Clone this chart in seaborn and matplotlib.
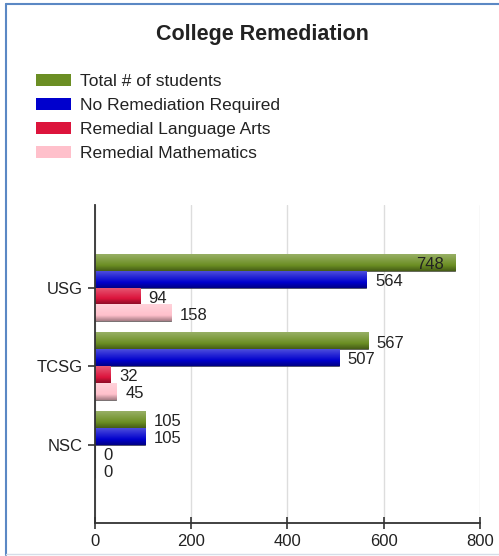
import matplotlib
matplotlib.use("Agg")
import matplotlib.pyplot as plt
import seaborn as sns
import pandas as pd
import numpy as np
from matplotlib.lines import Line2D
from matplotlib.patches import Patch
from matplotlib.colors import to_rgb, LinearSegmentedColormap

categories = ["USG", "TCSG", "NSC"]
series = ["Total # of students", "No Remediation Required",
          "Remedial Language Arts", "Remedial Mathematics"]
total_students = [748, 567, 105]
no_remediation = [564, 507, 105]
remedial_language = [94, 32, 0]
remedial_math = [158, 45, 0]
colors = ["#6B8E23", "#0000CD", "#DC143C", "#FFC0CB"]
x_ticks = [0, 200, 400, 600, 800]

rows = []
for s, vals in zip(series, [total_students, no_remediation, remedial_language, remedial_math]):
    for c, v in zip(categories, vals):
        rows.append({"College": c, "Series": s, "Count": v})
df = pd.DataFrame(rows)

sns.set_theme(style="white")
plt.rcParams["font.family"] = ["Liberation Sans", "DejaVu Sans"]

fig = plt.figure(figsize=(4.99, 5.56), dpi=100)
ax = fig.add_axes([0.190, 0.0594, 0.772, 0.5716])

sns.barplot(data=df, y="College", x="Count", hue="Series", order=categories,
            hue_order=series, palette=colors, orient="h", width=0.86,
            saturation=1, edgecolor="#444444", linewidth=0.5, legend=False, ax=ax)

ax.set_xlim(0, 800)
ax.set_ylim(3.0, -1.05)


def mix(c, other, t):
    c = np.array(to_rgb(c))
    return tuple(c * (1 - t) + np.array(other) * t)


# gradient shading clipped to each bar
for cont, col in zip(ax.containers, colors):
    cmap = LinearSegmentedColormap.from_list(
        "g", [mix(col, (1, 1, 1), 0.30), mix(col, (1, 1, 1), 0.15), col,
              mix(col, (0, 0, 0), 0.35)])
    grad = np.linspace(0, 1, 64).reshape(-1, 1)
    for bar in cont:
        w = bar.get_width()
        if w <= 0:
            continue
        y0 = bar.get_y()
        h = bar.get_height()
        im = ax.imshow(grad, cmap=cmap, aspect="auto", origin="upper",
                       extent=(0, w, y0 + h, y0), zorder=bar.get_zorder() + 0.1,
                       interpolation="bilinear")
        im.set_clip_path(bar)

ax.set_xlim(0, 800)
ax.set_ylim(3.0, -1.05)

for cont in ax.containers:
    for bar in cont:
        w = bar.get_width()
        y = bar.get_y() + bar.get_height() / 2 + 0.03
        if w > 700:
            ax.text(w - 24, y, f"{int(w)}", va="center", ha="right",
                    fontsize=12, color="#222222", zorder=10)
        else:
            ax.text(w + 18, y, f"{int(w)}", va="center", ha="left",
                    fontsize=12, color="#222222", zorder=10)

ax.set_xticks(x_ticks)
ax.set_xticklabels([str(t) for t in x_ticks])
ax.xaxis.grid(True, color="#dddddd", linewidth=1)
ax.set_axisbelow(True)
ax.set_xlabel("")
ax.set_ylabel("")
for side in ["top", "right"]:
    ax.spines[side].set_visible(False)
for side in ["left", "bottom"]:
    ax.spines[side].set_color("#333333")
    ax.spines[side].set_linewidth(1.3)
ax.tick_params(axis="x", direction="inout", length=8, width=1.2, colors="#333333",
               labelsize=12, labelcolor="#222222", bottom=True, pad=4)
ax.tick_params(axis="y", direction="out", length=5, width=1.2, colors="#333333",
               labelsize=12, labelcolor="#222222", left=True)

fig.text(0.525, 0.938, "College Remediation", ha="center", va="center",
         fontsize=15.5, fontweight="bold", color="#222222")

handles = [Patch(facecolor=c, edgecolor="none") for c in colors]
fig.legend(handles, series, loc="upper left", bbox_to_anchor=(0.058, 0.879),
           frameon=False, fontsize=12.5, handlelength=2.0, handleheight=0.7,
           labelspacing=0.5, handletextpad=0.55, borderaxespad=0,
           labelcolor="#222222")

border = "#5B88C4"
fig.add_artist(Line2D([0.013, 0.013], [0.002, 0.992], transform=fig.transFigure,
                      color=border, linewidth=1.5))
fig.add_artist(Line2D([0.013, 1.0], [0.992, 0.992], transform=fig.transFigure,
                      color=border, linewidth=1.5))
fig.add_artist(Line2D([0.013, 1.0], [0.003, 0.003], transform=fig.transFigure,
                      color="#d5dde8", linewidth=1))

fig.savefig("out.png", dpi=100)
